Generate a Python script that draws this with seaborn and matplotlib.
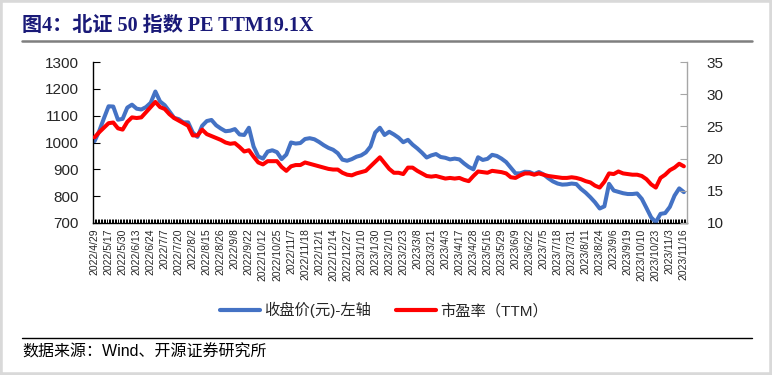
import numpy as np
import pandas as pd
import matplotlib
matplotlib.use("Agg")
import matplotlib.pyplot as plt
import seaborn as sns
from matplotlib.lines import Line2D
from matplotlib.patches import Rectangle
from matplotlib.ticker import MultipleLocator

sns.set_theme(style="white")
plt.rcParams['font.family'] = ['Liberation Sans', 'Noto Sans CJK SC']
plt.rcParams['axes.unicode_minus'] = False

TITLE = "图4：北证 50 指数 PE TTM19.1X"
SOURCE = "数据来源：Wind、开源证券研究所"
PRICE_LABEL = "收盘价(元)-左轴"
PE_LABEL = "市盈率（TTM）"

BLUE = "#4472C4"
RED = "#FF0000"

# category labels on the x axis (one every 9 trading days)
date_labels = [
    "2022/4/29", "2022/5/17", "2022/5/30", "2022/6/13", "2022/6/24", "2022/7/7",
    "2022/7/20", "2022/8/2", "2022/8/15", "2022/8/26", "2022/9/8", "2022/9/22",
    "2022/10/12", "2022/10/25", "2022/11/7", "2022/11/18", "2022/12/1", "2022/12/14",
    "2022/12/27", "2023/1/10", "2023/1/30", "2023/2/10", "2023/2/23", "2023/3/8",
    "2023/3/21", "2023/4/3", "2023/4/17", "2023/4/28", "2023/5/16", "2023/5/29",
    "2023/6/9", "2023/6/22", "2023/7/5", "2023/7/18", "2023/7/31", "2023/8/11",
    "2023/8/24", "2023/9/6", "2023/9/19", "2023/10/10", "2023/10/23", "2023/11/3",
    "2023/11/16",
]

# readings taken every 3 trading days
close_price = [
    1005, 1043, 1090, 1135, 1134, 1085, 1088, 1130, 1141, 1126,
    1123, 1132, 1148, 1190, 1153, 1139, 1116, 1092, 1087, 1075,
    1075, 1037, 1021, 1062, 1080, 1084, 1064, 1052, 1042, 1044,
    1050, 1030, 1028, 1055, 985, 948, 940, 966, 971, 964,
    938, 955, 1000, 996, 998, 1013, 1016, 1012, 1002, 990,
    980, 973, 960, 936, 932, 938, 947, 952, 963, 985,
    1037, 1055, 1028, 1040, 1030, 1018, 1001, 1010, 992, 978,
    962, 944, 952, 957, 946, 943, 937, 940, 937, 922,
    909, 900, 945, 935, 939, 954, 950, 940, 927, 906,
    885, 885, 891, 890, 882, 890, 881, 867, 855, 847,
    843, 844, 847, 845, 827, 813, 796, 777, 754, 762,
    846, 821, 816, 811, 808, 808, 810, 790, 756, 721,
    703, 734, 737, 760, 802, 829, 815,
]

pe_ttm = [
    23.3, 24.1, 24.8, 25.5, 25.6, 24.7, 24.5, 25.7, 26.4, 26.3,
    26.4, 27.2, 28.0, 28.8, 28.0, 27.7, 26.9, 26.3, 25.9, 25.5,
    25.1, 23.6, 23.6, 24.5, 23.8, 23.5, 23.2, 22.9, 22.5, 22.3,
    22.4, 21.8, 21.1, 21.3, 20.3, 19.4, 19.1, 19.6, 19.6, 19.6,
    18.7, 18.1, 18.8, 19.0, 19.0, 19.4, 19.2, 19.0, 18.8, 18.6,
    18.4, 18.3, 18.3, 17.8, 17.5, 17.4, 17.7, 17.9, 18.1, 18.8,
    19.5, 20.2, 19.3, 18.4, 17.8, 17.8, 17.6, 18.6, 18.6, 18.1,
    17.7, 17.3, 17.2, 17.3, 17.1, 16.9, 17.0, 16.9, 17.0, 16.7,
    16.5, 17.3, 18.0, 17.9, 17.8, 18.1, 18.0, 17.9, 17.7, 17.1,
    17.0, 17.4, 17.7, 17.7, 17.5, 17.7, 17.5, 17.3, 17.2, 17.1,
    17.0, 17.0, 17.1, 17.0, 16.8, 16.5, 16.3, 15.8, 15.5, 16.4,
    17.7, 17.6, 18.0, 17.7, 17.6, 17.5, 17.5, 17.3, 16.8, 16.0,
    15.5, 17.0, 17.5, 18.2, 18.6, 19.2, 18.8,
]

DAYS_PER_READING = 3
DAYS_PER_LABEL = 9

df = pd.DataFrame({
    "day": np.arange(len(close_price)) * DAYS_PER_READING,
    "close": close_price,
    "pe": pe_ttm,
})

W, H = 772, 375
fig = plt.figure(figsize=(W / 100, H / 100), dpi=100)
ax = fig.add_axes([93 / W, 1 - 223 / H, (687 - 93) / W, (223 - 62) / H])

sns.lineplot(data=df, x="day", y="close", color=BLUE, lw=2.9, ax=ax)
ax2 = ax.twinx()
sns.lineplot(data=df, x="day", y="pe", color=RED, lw=2.9, ax=ax2)

# axes ranges / ticks
ax.set_xlim(-1, 380)
ax.set_ylim(700, 1300)
ax2.set_ylim(10, 35)
ax.set_yticks(range(700, 1301, 100))
ax2.set_yticks(range(10, 36, 5))
ax.set_xticks(np.arange(len(date_labels)) * DAYS_PER_LABEL)
ax.set_xticklabels(date_labels, rotation=90, fontsize=7.5)
ax.xaxis.set_minor_locator(MultipleLocator(1))
for a in (ax, ax2):
    a.set_xlabel("")
    a.set_ylabel("")
    a.grid(False)

ax.tick_params(axis="x", which="both", direction="in", length=3, width=0.7,
               color="black", pad=4, bottom=True)
ax.tick_params(axis="y", direction="in", length=5, width=0.8, color="black",
               labelsize=11, pad=10, left=True)
ax2.tick_params(axis="y", direction="in", length=5, width=0.8, color="#a6a6a6",
                labelsize=11, pad=14, right=True)

ax.spines["top"].set_visible(False)
ax.spines["right"].set_visible(False)
ax.spines["left"].set_color("black")
ax.spines["bottom"].set_color("black")
ax.spines["left"].set_linewidth(1.0)
ax.spines["bottom"].set_linewidth(1.0)
ax2.spines["top"].set_visible(False)
ax2.spines["left"].set_visible(False)
ax2.spines["bottom"].set_visible(False)
ax2.spines["right"].set_color("#a6a6a6")
ax2.spines["right"].set_linewidth(1.0)

# legend below the tick labels
handles = [Line2D([], [], color=BLUE, lw=3), Line2D([], [], color=RED, lw=3)]
fig.legend(handles, [PRICE_LABEL, PE_LABEL], loc="center",
           bbox_to_anchor=(384 / W, 1 - 310 / H), ncol=2, frameon=False,
           fontsize=11, handlelength=2.6, columnspacing=1.6, handletextpad=0.3)

# title, rules, source
fig.text(22 / W, 1 - 26 / H, TITLE, fontsize=14.5, fontweight="bold", color="#1a1a78",
         family=["Liberation Serif", "Noto Sans CJK SC"], ha="left", va="center")
fig.add_artist(Line2D([22 / W, 752 / W], [1 - 41 / H] * 2, color="#7f7f7f", lw=1.8,
                      transform=fig.transFigure))
fig.add_artist(Line2D([22 / W, 752 / W], [1 - 338 / H] * 2, color="black", lw=1.0,
                      transform=fig.transFigure))
fig.text(22 / W, 1 - 352 / H, SOURCE, fontsize=11.5, color="black", ha="left", va="center")
fig.add_artist(Rectangle((0, 0), 1, 1, transform=fig.transFigure, fill=False,
                         edgecolor="#d9d9d9", lw=4))

fig.savefig("out.png", dpi=100)
